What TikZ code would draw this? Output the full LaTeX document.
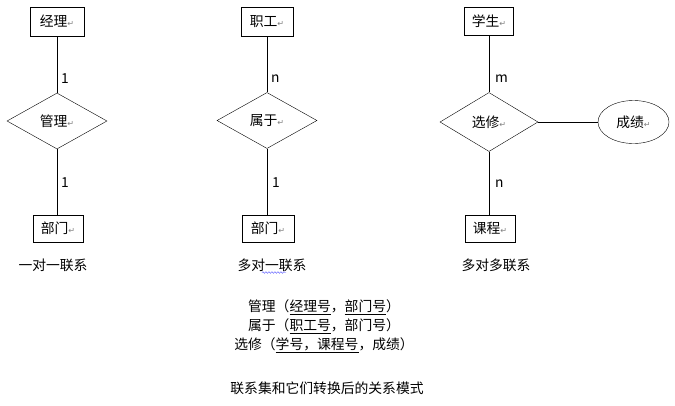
\documentclass[tikz,border=0pt]{standalone}
\usepackage{fontspec}
\setmainfont{Noto Sans CJK SC}
\newfontfamily\markfont{DejaVu Sans}
\usepackage{xcolor}
\usetikzlibrary{shapes.geometric}
\usetikzlibrary{decorations.pathmorphing}
\newcommand{\pmark}{{\markfont\fontsize{8}{8}\selectfont\color{gray}↵}}

\begin{document}
\begin{tikzpicture}[x=1pt,y=-1pt,font=\fontsize{13.8}{15}\selectfont,
  entity/.style={draw,rectangle,minimum width=52pt,minimum height=28pt,inner sep=0pt},
  relation/.style={draw,diamond,minimum width=100pt,minimum height=56pt,inner sep=0pt},
  attr/.style={draw,ellipse,minimum width=71pt,minimum height=43pt,inner sep=0pt},
  card/.style={inner sep=0pt,anchor=west}]
\useasboundingbox (0,0) rectangle (675,405);
 % one to one
 \node[entity,minimum width=54pt,minimum height=29pt] (mgr) at (57,21.5) {经理\pmark};
 \node[relation] (manage) at (57,121) {管理\pmark};
 \node[entity,minimum width=50pt,minimum height=27pt] (dept1) at (58,228.5) {部门\pmark};
 \draw (mgr) -- (manage);
 \draw (manage.south) -- (dept1.north -| manage.south);
 \node[card] at (61,79) {1};
 \node[card] at (61,183) {1};
 \node (cap1) at (53,265) {一对一联系};
 %%%%%%%%%%%%%%%%%%%%%%%%%%%%%%%%%%%
 % many to one
 \node[entity,minimum height=29pt] (staff) at (267,21.5) {职工\pmark};
 \node[relation] (belong) at (267,120.5) {属于\pmark};
 \node[entity,minimum height=27pt] (dept2) at (268,228.5) {部门\pmark};
 \draw (staff) -- (belong);
 \draw (belong.south) -- (dept2.north -| belong.south);
 \node[card] at (271,79) {n};
 \node[card] at (272,183) {1};
 \node (cap2) at (272,265) {多对一联系};
 \draw[blue!70,thin,decorate,decoration={snake,amplitude=0.8pt,segment length=3pt}]
   (262,272.5) -- (286,272.5);
 %%%%%%%%%%%%%%%%%%%%%%%%%%%%%%%%%%%
 % many to many
 \node[entity,minimum width=49pt] (stu) at (489,21) {学生\pmark};
 \node[relation,minimum width=98pt,minimum height=59pt] (select) at (489,122) {选修\pmark};
 \node[entity,minimum width=50pt,minimum height=27pt] (course) at (490,228.5) {课程\pmark};
 \node[attr] (score) at (633.5,122) {成绩\pmark};
 \draw (stu) -- (select);
 \draw (select) -- (course.north -| select.south);
 \draw (select) -- (score);
 \node[card] at (495,79) {m};
 \node[card] at (495,184) {n};
 \node (cap3) at (496,265) {多对多联系};
 %%%%%%%%%%%%%%%%%%%%%%%%%%%%%%%%%%%
 % relation schemas
 \node (sch1) at (324,307) {管理（\underline{经理号}，\underline{部门号}）};
 \node (sch2) at (324,326) {属于（\underline{职工号}，部门号）};
 \node (sch3) at (324,345) {选修（\underline{学号，课程号}，成绩）};
 \node (title) at (327,388) {联系集和它们转换后的关系模式};
\end{tikzpicture}
\end{document}
